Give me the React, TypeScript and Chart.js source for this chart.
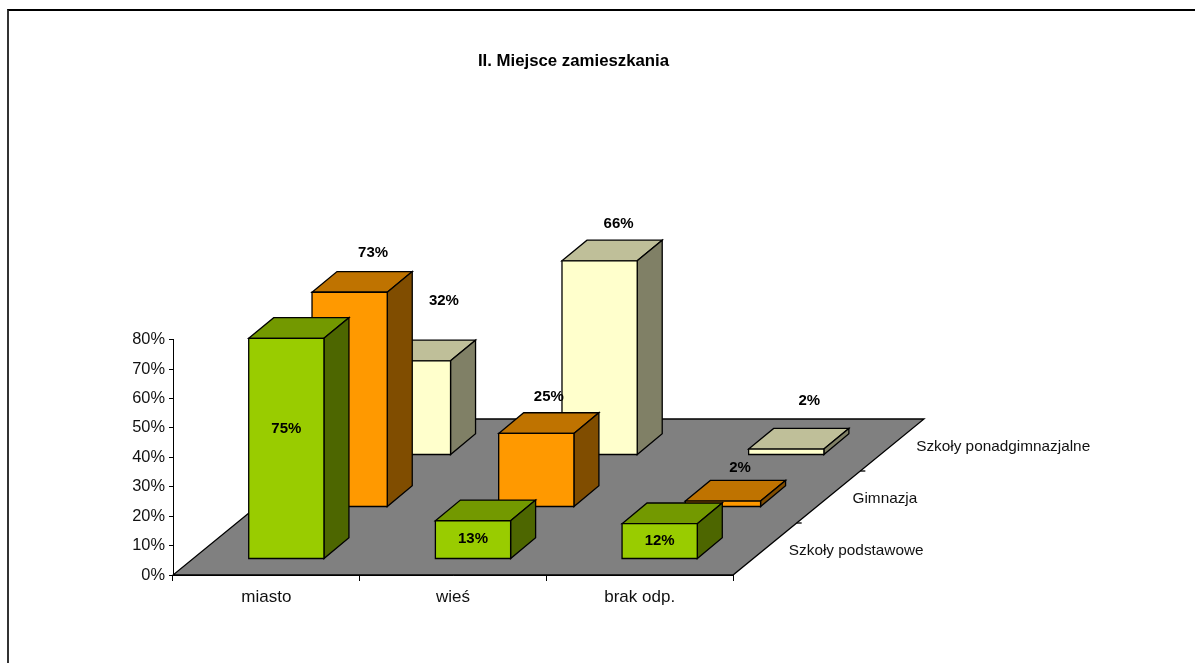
import React, { useEffect, useRef } from "react";
import { Chart, registerables } from "chart.js";

Chart.register(...registerables);

const categories = ["miasto", "wieś", "brak odp."];
const seriesNames = ["Szkoły podstawowe", "Gimnazja", "Szkoły ponadgimnazjalne"];
const podstawowe = [75, 13, 12];
const gimnazja = [73, 25, 2];
const ponadgimnazjalne = [32, 66, 2];
const yTicksMax = 80;
const yTicksStep = 10;

const FONT = '"Liberation Sans", Arial, sans-serif';
const TEXT = "#111";

// Oblique projection of the depth axis
const FLOOR_DX = 191;
const FLOOR_DY = 156;
const SLOT_DX = 63.3;
const SLOT_DY = 52;
const FIRST_DX = 20;
const FIRST_DY = 16;
const BOX_DX = 25;
const BOX_DY = 20.7;

const faces = [
  { front: "#99CC00", top: "#739900", side: "#4D6600" },
  { front: "#FF9900", top: "#BF7300", side: "#804D00" },
  { front: "#FFFFCC", top: "#BFBF99", side: "#808066" },
];

// Hand-placed data label offsets from the middle of each bar's front top edge
const labelShift = [
  [[0, 90.5], [0, 18], [0, 17]],
  [[23.5, -39.5], [12.5, -37], [17, -33]],
  [[31, -60], [19, -37], [23, -48]],
];

const depthShift = (i: number) => ({
  dx: FIRST_DX + SLOT_DX * i,
  dy: FIRST_DY + SLOT_DY * i,
});

const poly = (ctx: CanvasRenderingContext2D, pts: number[][], fill: string) => {
  ctx.beginPath();
  pts.forEach(([x, y], k) => (k ? ctx.lineTo(x, y) : ctx.moveTo(x, y)));
  ctx.closePath();
  ctx.fillStyle = fill;
  ctx.fill();
  ctx.stroke();
};

const scene3d = {
  id: "scene3d",
  afterLayout(chart: any) {
    if (chart.titleBlock) {
      chart.titleBlock.left = 0;
      chart.titleBlock.right = 1147;
    }
  },
  beforeDatasetsDraw(chart: any) {
    const ctx: CanvasRenderingContext2D = chart.ctx;
    const { left, right, bottom } = chart.chartArea;
    ctx.save();
    ctx.strokeStyle = "#000";
    ctx.lineWidth = 1.3;
    ctx.lineJoin = "miter";
    poly(
      ctx,
      [
        [left, bottom],
        [right, bottom],
        [right + FLOOR_DX, bottom - FLOOR_DY],
        [left + FLOOR_DX, bottom - FLOOR_DY],
      ],
      "#808080"
    );

    // Depth axis: tick marks and series names
    ctx.fillStyle = TEXT;
    ctx.font = `15.35px ${FONT}`;
    ctx.textAlign = "left";
    ctx.textBaseline = "middle";
    seriesNames.forEach((name, i) => {
      const tx = right + (FLOOR_DX / 3) * (i + 1);
      const ty = bottom - (FLOOR_DY / 3) * (i + 1);
      if (i < 2) {
        ctx.beginPath();
        ctx.moveTo(tx, ty);
        ctx.lineTo(tx + 5, ty);
        ctx.stroke();
      }
      ctx.fillText(
        name,
        right + (FLOOR_DX / 3) * (i + 0.5) + 24,
        bottom - (FLOOR_DY / 3) * (i + 0.5) + 2
      );
    });

    // Boxes, back row first
    for (let s = chart.data.datasets.length - 1; s >= 0; s--) {
      const meta = chart.getDatasetMeta(s);
      const { dx, dy } = depthShift(s);
      const c = faces[s];
      meta.data.forEach((el: any) => {
        const l = el.x - el.width / 2 + dx;
        const r = el.x + el.width / 2 + dx;
        const t = el.y - dy;
        const b = el.base - dy;
        poly(ctx, [[l, t], [l + BOX_DX, t - BOX_DY], [r + BOX_DX, t - BOX_DY], [r, t]], c.top);
        poly(ctx, [[r, t], [r + BOX_DX, t - BOX_DY], [r + BOX_DX, b - BOX_DY], [r, b]], c.side);
        poly(ctx, [[l, t], [r, t], [r, b], [l, b]], c.front);
      });
    }
    ctx.restore();
  },
  // the boxes above replace the flat bars
  beforeDatasetDraw() {
    return false;
  },
  afterDatasetsDraw(chart: any) {
    const ctx: CanvasRenderingContext2D = chart.ctx;
    ctx.save();
    ctx.fillStyle = "#000";
    ctx.font = `bold 15px ${FONT}`;
    ctx.textAlign = "center";
    ctx.textBaseline = "middle";
    chart.data.datasets.forEach((ds: any, s: number) => {
      const { dx, dy } = depthShift(s);
      chart.getDatasetMeta(s).data.forEach((el: any, i: number) => {
        const [ox, oy] = labelShift[s][i];
        ctx.fillText(`${ds.data[i]}%`, el.x + dx + ox, el.y - dy + oy);
      });
    });
    ctx.restore();
  },
};

export default function App() {
  const ref = useRef<HTMLCanvasElement>(null);
  useEffect(() => {
    const chart = new Chart(ref.current!, {
      type: "bar",
      data: {
        labels: categories,
        datasets: [
          { label: seriesNames[0], data: podstawowe, backgroundColor: faces[0].front },
          { label: seriesNames[1], data: gimnazja, backgroundColor: faces[1].front },
          { label: seriesNames[2], data: ponadgimnazjalne, backgroundColor: faces[2].front },
        ],
      },
      plugins: [scene3d],
      options: {
        responsive: false,
        animation: false,
        events: [],
        layout: { padding: { left: 113, right: 462, top: 0, bottom: 48 } },
        datasets: { bar: { grouped: false, barPercentage: 0.403, categoryPercentage: 1 } },
        plugins: {
          legend: { display: false },
          tooltip: { enabled: false },
          title: {
            display: true,
            text: "II. Miejsce zamieszkania",
            color: "#000",
            font: { family: FONT, size: 16.8, weight: "bold", lineHeight: 1.2 },
            padding: { top: 51.5, bottom: 268 },
          },
        },
        scales: {
          x: {
            type: "category",
            afterFit: (s: any) => { s.height = 40; },
            border: { color: "#000" },
            grid: { drawOnChartArea: false, color: "#000", tickLength: 6, tickWidth: 1 },
            ticks: {
              color: TEXT,
              font: { family: FONT, size: 17 },
              padding: 6,
              maxRotation: 0,
            },
          },
          y: {
            min: 0,
            max: yTicksMax,
            afterFit: (s: any) => { s.width = 60; },
            border: { color: "#000" },
            grid: { drawOnChartArea: false, color: "#000", tickLength: 4, tickWidth: 1 },
            ticks: {
              stepSize: yTicksStep,
              color: TEXT,
              font: { family: FONT, size: 16.4 },
              padding: 4,
              callback: (v: any) => `${v}%`,
            },
          },
        },
      } as any,
    });
    return () => chart.destroy();
  }, []);

  return (
    <div style={{ position: "fixed", inset: 0, background: "#fff", overflow: "hidden" }}>
      <div
        style={{
          position: "absolute",
          left: 7,
          top: 9,
          right: 0,
          bottom: 0,
          borderLeft: "2px solid #333",
          borderTop: "2px solid #000",
        }}
      />
      <canvas
        ref={ref}
        width={1195}
        height={663}
        style={{ position: "absolute", left: 0, top: 0, display: "block" }}
      />
    </div>
  );
}
